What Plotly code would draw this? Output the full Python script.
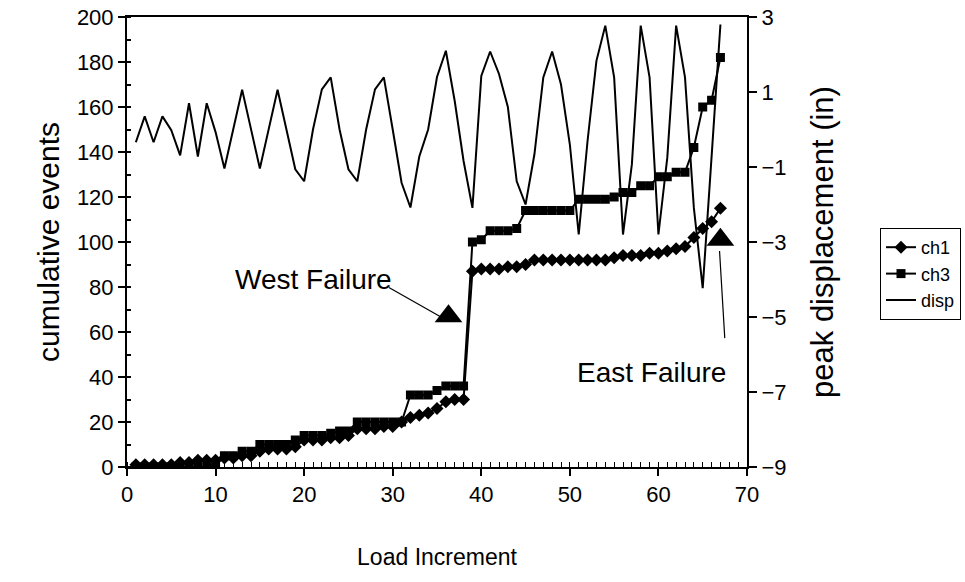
import plotly.graph_objects as go

load_inc = list(range(1, 68))

ch1 = [1, 1, 1, 1, 1, 2, 2, 3, 3, 3,
       4, 4, 5, 5, 7, 8, 8, 8, 9, 12,
       12, 12, 13, 13, 14, 17, 17, 17, 18, 18,
       20, 22, 23, 24, 26, 29, 30, 30, 87, 88,
       88, 88, 89, 89, 90, 92, 92, 92, 92, 92,
       92, 92, 92, 92, 93, 94, 94, 94, 95, 95,
       96, 97, 98, 102, 106, 109, 115]

ch3 = [0, 0, 0, 0, 0, 0, 0, 0, 0, 1,
       5, 5, 7, 7, 10, 10, 10, 10, 12, 14,
       14, 14, 15, 16, 16, 20, 20, 20, 20, 20,
       20, 32, 32, 32, 34, 36, 36, 36, 100, 101,
       105, 105, 105, 106, 114, 114, 114, 114, 114, 114,
       119, 119, 119, 119, 120, 122, 122, 125, 125, 129,
       129, 131, 131, 142, 160, 163, 182]

disp = [-0.34, 0.35, -0.34, 0.35, -0.02, -0.69, 0.70, -0.72, 0.70, -0.07,
        -1.04, 0.01, 1.06, 0.01, -1.04, 0.01, 1.06, 0.0, -1.06, -1.38,
        0.0, 1.07, 1.39, 0.0, -1.06, -1.38, 0.0, 1.07, 1.39, 0.0,
        -1.42, -2.08, -0.72, 0.0, 1.40, 2.10, 0.76, -0.84, -2.09, 1.43,
        2.08, 1.48, 0.60, -1.38, -2.00, -0.66, 1.39, 2.08, 1.20, -0.40,
        -2.80, -0.30, 1.83, 2.77, 1.39, -2.80, -0.93, 2.77, 1.39, -2.80,
        -0.75, 2.77, 1.39, -2.09, -4.23, -0.73, 2.80]

failure_labels = ["West Failure", "East Failure"]
failure_x = [36.3, 67.0]
failure_y = [67, 101]
label_x = [21.0, 59.2]
label_y = [83.3, 41.9]
arrow_tail_x = [29.4, 67.5]
arrow_tail_y = [80.2, 56.6]
arrow_tip_x = [35.4, 66.9]
arrow_tip_y = [66.8, 96.0]

left_ticks = list(range(0, 201, 20))
right_ticks = [-9, -7, -5, -3, -1, 1, 3]
x_ticks = list(range(0, 71, 10))

FONT = "Liberation Sans, Arial, Helvetica, sans-serif"

fig = go.Figure()
fig.add_trace(go.Scatter(x=load_inc, y=ch1, name="ch1", mode="lines+markers",
                         line=dict(color="black", width=2),
                         marker=dict(symbol="diamond", size=10, color="black")))
fig.add_trace(go.Scatter(x=load_inc, y=ch3, name="ch3", mode="lines+markers",
                         line=dict(color="black", width=2),
                         marker=dict(symbol="square", size=9, color="black")))
fig.add_trace(go.Scatter(x=load_inc, y=disp, name="disp", mode="lines",
                         line=dict(color="black", width=2), yaxis="y2"))
fig.add_trace(go.Scatter(x=failure_x, y=failure_y, mode="markers", showlegend=False,
                         marker=dict(symbol="triangle-up", size=24, color="black"),
                         hoverinfo="skip"))

annotations = []
for i in range(2):
    annotations.append(dict(x=label_x[i], y=label_y[i], xref="x", yref="y",
                            text=failure_labels[i], showarrow=False,
                            font=dict(family=FONT, size=28, color="black")))
    annotations.append(dict(x=arrow_tip_x[i], y=arrow_tip_y[i], xref="x", yref="y",
                            ax=arrow_tail_x[i], ay=arrow_tail_y[i],
                            axref="x", ayref="y", text="", showarrow=True,
                            arrowhead=0, arrowwidth=1.2, arrowcolor="black"))

pw = 965 - 127 - 218
ph = 582 - 17 - 115

fig.update_layout(
    width=965, height=582,
    margin=dict(l=127, r=218, t=17, b=115, autoexpand=False),
    paper_bgcolor="white", plot_bgcolor="white",
    font=dict(family=FONT, size=20, color="black"),
    showlegend=True,
    legend=dict(x=(961 - 127) / pw, y=1 - (228 - 17) / ph, xanchor="right", yanchor="top",
                bordercolor="black", borderwidth=1, bgcolor="white",
                font=dict(family=FONT, size=18, color="black"),
                tracegroupgap=0, itemwidth=30),
    annotations=annotations,
    xaxis=dict(range=[0, 70], tickvals=x_ticks, ticks="outside", ticklen=7,
               tickwidth=1.5, tickcolor="black", showline=True, linecolor="black",
               linewidth=2, mirror=True, showgrid=False, zeroline=False,
               tickfont=dict(size=22), automargin=False,
               minor=dict(dtick=1, ticks="inside", ticklen=5, tickcolor="black",
                          tickwidth=1, showgrid=False),
               title=dict(text="Load Increment", font=dict(size=23), standoff=42)),
    yaxis=dict(range=[0, 200], tickvals=left_ticks, ticks="outside", ticklen=7,
               tickwidth=1.5, tickcolor="black", showline=True, linecolor="black",
               linewidth=2, showgrid=False, zeroline=False, tickfont=dict(size=22),
               automargin=False,
               minor=dict(dtick=10, ticks="inside", ticklen=4, tickcolor="black",
                          showgrid=False),
               title=dict(text="cumulative events", font=dict(size=30), standoff=8)),
    yaxis2=dict(range=[-9, 3], tickvals=right_ticks, overlaying="y", side="right",
                ticks="outside", ticklen=8, tickwidth=1.5, tickcolor="black",
                showline=True, linecolor="black", linewidth=2, showgrid=False,
                zeroline=False, tickfont=dict(size=22), automargin=False,
                title=dict(text="peak displacement (in)", font=dict(size=31), standoff=26)),
)

fig.write_html("out.html")
